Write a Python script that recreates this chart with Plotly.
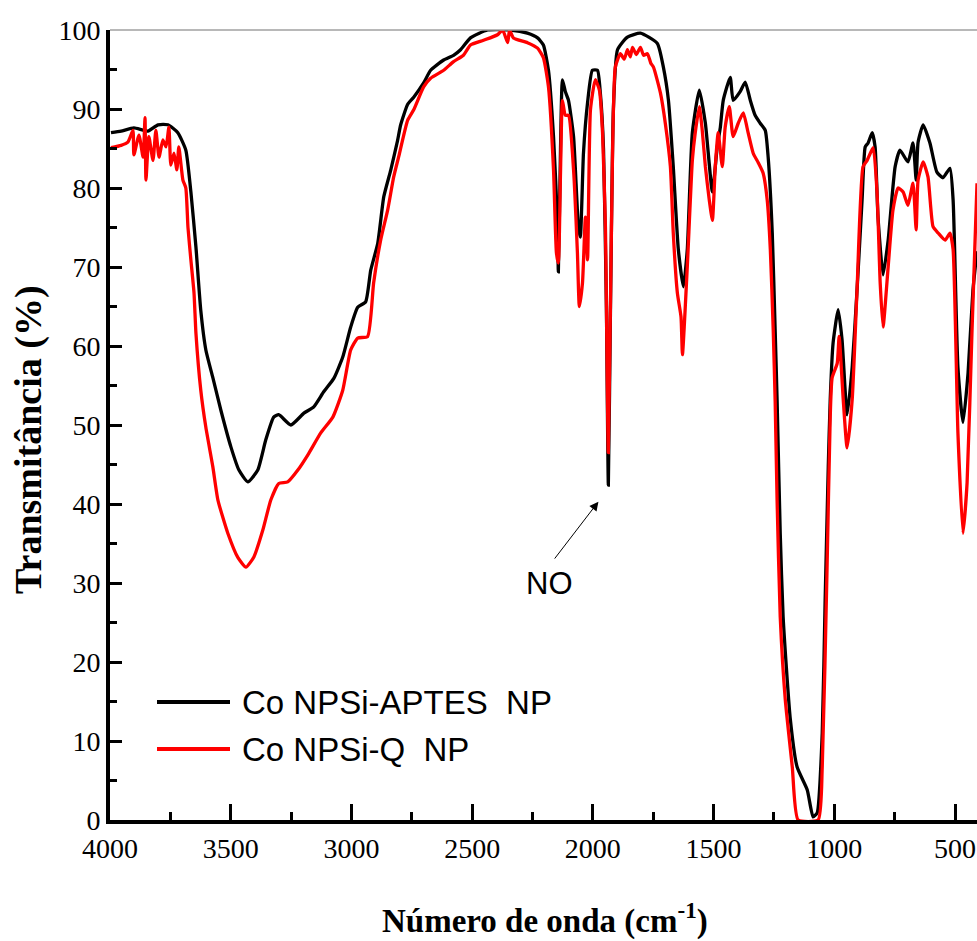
import plotly.graph_objects as go

# ---- data ----
wn_aptes = [3996, 3954, 3901, 3843, 3801, 3760, 3719, 3686, 3665, 3644, 3624, 3603, 3574, 3541,
            3499, 3466, 3429, 3388, 3355, 3322, 3301, 3251, 3197, 3156, 3115, 3073, 3036, 3003,
            2974, 2941, 2920, 2891, 2866, 2837, 2809, 2796, 2767, 2742, 2701, 2672, 2618, 2577,
            2548, 2507, 2436, 2341, 2271, 2229, 2205, 2184, 2163, 2147, 2143, 2134, 2126, 2114,
            2101, 2080, 2060, 2052, 2039, 2022, 2002, 1981, 1969, 1956, 1944, 1936, 1927, 1915,
            1898, 1857, 1803, 1733, 1708, 1687, 1667, 1646, 1625, 1609, 1588, 1559, 1534, 1505,
            1485, 1472, 1460, 1431, 1419, 1390, 1369, 1348, 1328, 1307, 1286, 1274, 1257, 1245,
            1237, 1224, 1212, 1183, 1154, 1112, 1088, 1071, 1050, 1038, 1025, 1017, 1005, 984,
            968, 947, 926, 906, 885, 872, 860, 843, 831, 819, 798, 777, 748, 728, 695, 674, 661,
            653, 632, 604, 575, 550, 521, 508, 488, 467, 446, 426, 409]
t_aptes = [87.0, 87.2, 87.6, 87.2, 88.0, 88.0, 87.0, 84.8, 79.5, 72.5, 64.5, 59.5, 56.0, 51.9,
           47.2, 44.3, 42.8, 44.3, 48.1, 51.0, 51.3, 50.0, 51.5, 52.3, 54.2, 55.9, 58.6, 62.4,
           64.9, 65.6, 69.6, 73.0, 78.9, 82.3, 86.0, 88.0, 90.6, 91.5, 93.3, 94.9, 96.2, 96.8,
           97.5, 99.0, 100.0, 100.0, 99.6, 99.0, 98.1, 94.9, 86.5, 75.9, 69.4, 85.0, 93.7, 92.2,
           91.1, 86.5, 75.1, 73.8, 84.4, 90.8, 94.9, 94.9, 92.0, 85.0, 65.0, 42.4, 65.0, 90.0,
           97.5, 99.1, 99.6, 98.3, 95.3, 91.1, 82.7, 72.2, 67.5, 72.2, 87.0, 92.4, 88.2, 79.5,
           85.2, 87.7, 91.1, 94.0, 91.1, 92.2, 93.4, 91.1, 89.2, 88.2, 87.3, 83.9, 74.3, 62.0,
           53.2, 36.3, 25.7, 13.0, 6.7, 3.8, 0.4, 0.9, 11.0, 27.8, 44.7, 53.2, 60.4, 64.6,
           60.8, 51.3, 57.3, 67.0, 78.5, 85.2, 85.7, 87.0, 85.2, 76.3, 69.0, 73.4, 82.7, 84.8,
           83.3, 85.7, 81.0, 85.8, 88.0, 85.7, 82.0, 81.3, 82.5, 78.5, 57.3, 50.3, 56.6, 67.0,
           72.0]

wn_q = [3996, 3954, 3926, 3905, 3901, 3880, 3863, 3855, 3851, 3839, 3822, 3810, 3797, 3781,
        3768, 3756, 3748, 3735, 3723, 3715, 3698, 3686, 3677, 3665, 3652, 3644, 3624, 3603,
        3574, 3553, 3512, 3470, 3437, 3404, 3367, 3334, 3301, 3264, 3222, 3181, 3127, 3077,
        3036, 3003, 2974, 2933, 2908, 2879, 2850, 2825, 2804, 2767, 2742, 2701, 2672, 2618,
        2577, 2536, 2507, 2453, 2395, 2374, 2353, 2345, 2329, 2271, 2229, 2205, 2184, 2163,
        2151, 2143, 2134, 2126, 2114, 2101, 2080, 2064, 2056, 2043, 2031, 2022, 2010, 1990,
        1973, 1960, 1948, 1936, 1923, 1907, 1886, 1870, 1857, 1845, 1836, 1820, 1803, 1790,
        1774, 1760, 1749, 1720, 1700,
        1679, 1667, 1650, 1635, 1629, 1609, 1588, 1576, 1559, 1547, 1534, 1518, 1505, 1493,
        1481, 1464, 1452, 1435, 1419, 1398, 1377, 1357, 1336, 1315, 1295, 1278, 1265, 1253,
        1245, 1237, 1224, 1203, 1174, 1150, 1067, 1050, 1030, 1017, 1009, 988, 980, 963, 947,
        926, 906, 881, 864, 839, 823, 810, 798, 777, 757, 736, 715, 695, 674, 661, 653, 632,
        612, 591, 570, 541, 521, 508, 488, 467, 450, 430, 409]
t_q = [85.1, 85.4, 85.8, 87.3, 84.2, 86.7, 83.9, 88.9, 81.0, 86.5, 83.5, 87.3, 83.9, 86.1,
       85.2, 87.7, 82.9, 84.4, 82.3, 85.2, 81.0, 80.0, 75.0, 70.9, 66.7, 61.6, 54.4, 49.7,
       44.7, 40.5, 36.3, 33.2, 32.0, 33.3, 36.7, 40.5, 42.6, 42.8, 44.3, 46.2, 49.0, 51.0,
       54.4, 59.5, 61.0, 61.2, 68.0, 73.4, 77.2, 81.4, 84.0, 88.6, 89.9, 92.8, 93.9, 94.9,
       96.0, 96.8, 98.1, 98.7, 99.4, 100.0, 98.4, 100.0, 99.0, 98.4, 97.7, 96.5, 92.8, 82.3,
       71.8, 70.5, 82.0, 91.1, 89.2, 89.2, 82.3, 71.8, 65.0, 68.0, 76.3, 70.9, 89.9, 93.7,
       92.4, 87.0, 75.0, 46.5, 75.0, 95.3, 97.0, 96.3, 97.5, 96.6, 97.8, 96.9, 97.8, 96.8,
       97.0, 95.8, 95.3, 92.0, 88.2,
       82.7, 74.3, 66.7, 63.7, 58.9, 70.0, 83.5, 87.0, 90.3, 87.3, 82.7, 78.5, 75.9, 82.7,
       87.0, 82.7, 87.7, 90.3, 86.5, 88.2, 89.5, 87.0, 84.4, 83.2, 81.9, 78.5, 72.2, 62.0,
       53.0, 40.5, 25.7, 15.2, 6.7, 0.0, 0.0, 6.7, 32.0, 51.0, 56.0, 57.8, 61.2, 53.2, 47.1,
       53.2, 67.0, 82.7, 83.5, 85.1, 79.4, 68.0, 62.4, 70.0, 77.2, 80.0, 79.5, 77.8, 80.6,
       74.7, 81.0, 83.3, 81.4, 75.1, 74.3, 73.4, 74.3, 72.2, 49.0, 36.3, 42.7, 61.6, 80.6]

series_names = ["Co NPSi-APTES\u00a0 NP", "Co NPSi-Q\u00a0 NP"]
series_colors = ["#000000", "#ff0000"]
x_ticks = [4000, 3500, 3000, 2500, 2000, 1500, 1000, 500]
y_ticks = [0, 10, 20, 30, 40, 50, 60, 70, 80, 90, 100]

fig = go.Figure()
fig.add_trace(go.Scatter(x=wn_aptes, y=t_aptes, mode="lines", name=series_names[0],
                         line=dict(color=series_colors[0], width=3.3, shape="spline", smoothing=0.5),
                         showlegend=False))
fig.add_trace(go.Scatter(x=wn_q, y=t_q, mode="lines", name=series_names[1],
                         line=dict(color=series_colors[1], width=3.3, shape="spline", smoothing=0.5),
                         showlegend=False))

W, H = 977, 941
L, R, T, B = 110, 0, 30, 121
pw, ph = W - L - R, H - T - B


def px(xp):
    return (xp - L) / pw


def py(yp):
    return (H - B - yp) / ph


serif = "Liberation Serif, Times New Roman, serif"
sans = "Liberation Sans, Arial, sans-serif"

fig.update_layout(
    width=W, height=H,
    margin=dict(l=L, r=R, t=T, b=B),
    paper_bgcolor="white", plot_bgcolor="white",
    xaxis=dict(range=[4000, 409], tickvals=x_ticks, ticks="inside", ticklen=16, tickwidth=3,
               tickcolor="black", showline=True, linewidth=4, linecolor="black",
               showgrid=False, zeroline=False,
               tickfont=dict(family=serif, size=28, color="black"),
               minor=dict(tickvals=[3750, 3250, 2750, 2250, 1750, 1250, 750], ticks="inside",
                          ticklen=8, tickwidth=3, tickcolor="black")),
    yaxis=dict(range=[0, 100], tickvals=y_ticks, ticks="inside", ticklen=12, tickwidth=3,
               tickcolor="black", showline=True, linewidth=4, linecolor="black",
               showgrid=False, zeroline=False,
               tickfont=dict(family=serif, size=28, color="black"),
               minor=dict(dtick=5, ticks="inside", ticklen=7, tickwidth=3, tickcolor="black")),
)

# thin gray top frame line
fig.add_shape(type="line", xref="paper", yref="paper", x0=0, x1=1, y0=1, y1=1,
              line=dict(color="#a0a0a0", width=1.5))

# axis titles
fig.add_annotation(text="<b>Número de onda (cm<sup>-1</sup>)</b>", xref="paper", yref="paper",
                   x=px(545), y=py(918), showarrow=False, xanchor="center", yanchor="middle",
                   font=dict(family=serif, size=33, color="black"))
fig.add_annotation(text="<b>Transmitância (%)</b>", xref="paper", yref="paper",
                   x=px(28), y=py(440), showarrow=False, textangle=-90,
                   xanchor="center", yanchor="middle",
                   font=dict(family=serif, size=38, color="black"))

# legend drawn manually
leg_y = [702, 749]
for name, col, yy in zip(series_names, series_colors, leg_y):
    fig.add_shape(type="line", xref="paper", yref="paper", x0=px(157), x1=px(230),
                  y0=py(yy), y1=py(yy), line=dict(color=col, width=4))
    fig.add_annotation(text=name, xref="paper", yref="paper", x=px(240), y=py(yy),
                       showarrow=False, xanchor="left", yanchor="middle",
                       font=dict(family=sans, size=33, color="black"))

# NO label with arrow
fig.add_annotation(text="NO", x=2180, y=30.0, xref="x", yref="y", showarrow=False,
                   font=dict(family=sans, size=31, color="black"))
fig.add_annotation(text="", x=1977, y=40.3, ax=2163, ay=32.9, xref="x", yref="y",
                   axref="x", ayref="y", showarrow=True, arrowhead=2, arrowsize=1.8,
                   arrowwidth=1, arrowcolor="black")

fig.write_html("out.html")
